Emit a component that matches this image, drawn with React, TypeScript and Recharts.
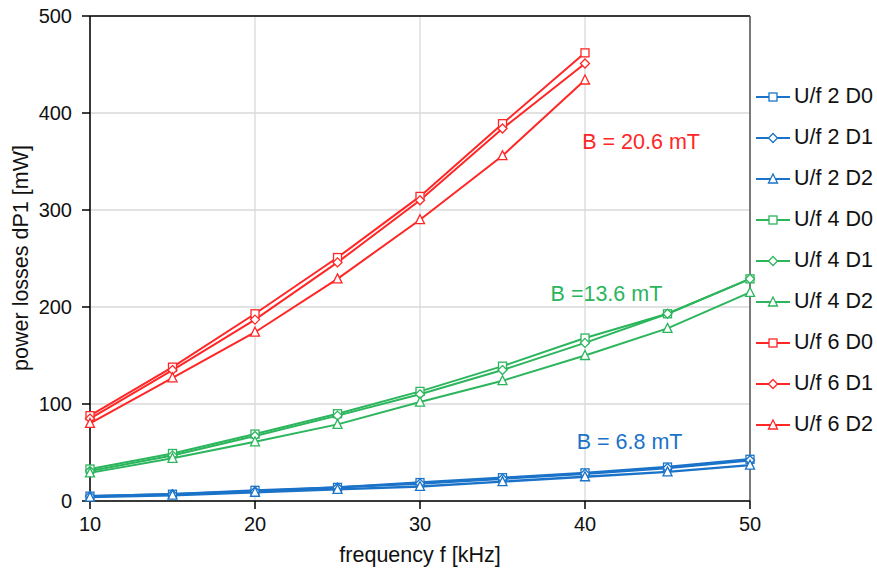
import React from "react";
import {
  CartesianGrid,
  Legend,
  Line,
  LineChart,
  ReferenceDot,
  ReferenceLine,
  XAxis,
  YAxis,
} from "recharts";

const freq = [10, 15, 20, 25, 30, 35, 40, 45, 50];

const uf2D0 = [5, 7, 11, 14, 19, 24, 29, 35, 43];
const uf2D1 = [5, 7, 10, 14, 18, 23, 28, 34, 42];
const uf2D2 = [4, 6, 9, 12, 15, 20, 25, 30, 37];

const uf4D0 = [33, 49, 69, 90, 113, 139, 168, 193, 229];
const uf4D1 = [31, 47, 67, 88, 110, 135, 163, 193, 229];
const uf4D2 = [29, 44, 61, 79, 102, 124, 150, 178, 215];

const uf6D0 = [88, 138, 193, 251, 314, 389, 462];
const uf6D1 = [85, 135, 187, 246, 310, 384, 451];
const uf6D2 = [80, 127, 174, 229, 290, 356, 434];

const xTicks = [10, 20, 30, 40, 50];
const yTicks = [0, 100, 200, 300, 400, 500];

const BLUE = "#1a73c8";
const GREEN = "#2bb55c";
const RED = "#ff2626";

const series = [
  { key: "u2d0", name: "U/f 2 D0", values: uf2D0, color: BLUE, shape: "square" },
  { key: "u2d1", name: "U/f 2 D1", values: uf2D1, color: BLUE, shape: "diamond" },
  { key: "u2d2", name: "U/f 2 D2", values: uf2D2, color: BLUE, shape: "triangle" },
  { key: "u4d0", name: "U/f 4 D0", values: uf4D0, color: GREEN, shape: "square" },
  { key: "u4d1", name: "U/f 4 D1", values: uf4D1, color: GREEN, shape: "diamond" },
  { key: "u4d2", name: "U/f 4 D2", values: uf4D2, color: GREEN, shape: "triangle" },
  { key: "u6d0", name: "U/f 6 D0", values: uf6D0, color: RED, shape: "square" },
  { key: "u6d1", name: "U/f 6 D1", values: uf6D1, color: RED, shape: "diamond" },
  { key: "u6d2", name: "U/f 6 D2", values: uf6D2, color: RED, shape: "triangle" },
];

const data = freq.map((f, i) => {
  const row: Record<string, number | null> = { f };
  series.forEach((s) => {
    row[s.key] = s.values[i] ?? null;
  });
  return row;
});

const font = "Liberation Sans, Arial, sans-serif";

function Marker({ shape, color, x, y }: { shape: string; color: string; x: number; y: number }) {
  if (shape === "square") {
    return <rect x={x - 4} y={y - 4} width={8} height={8} fill="#fff" stroke={color} strokeWidth={1.3} />;
  }
  if (shape === "diamond") {
    return (
      <polygon
        points={`${x},${y - 4.5} ${x + 4.5},${y} ${x},${y + 4.5} ${x - 4.5},${y}`}
        fill="#fff"
        stroke={color}
        strokeWidth={1.3}
      />
    );
  }
  return (
    <polygon
      points={`${x},${y - 5} ${x + 4.5},${y + 4} ${x - 4.5},${y + 4}`}
      fill="#fff"
      stroke={color}
      strokeWidth={1.3}
    />
  );
}

const makeDot = (shape: string, color: string) => (props: any) => {
  const { cx, cy, index } = props;
  if (cx == null || cy == null || props.value == null) return <g key={index} />;
  return (
    <g key={index}>
      <Marker shape={shape} color={color} x={cx} y={cy} />
    </g>
  );
};

function LegendBox() {
  return (
    <div style={{ fontFamily: font, fontSize: 21.5, color: "#111", lineHeight: 1 }}>
      {series.map((s) => (
        <div key={s.key} style={{ display: "flex", alignItems: "center", height: 41 }}>
          <svg width={36} height={14} style={{ marginRight: 3 }}>
            <line x1={1} y1={7} x2={35} y2={7} stroke={s.color} strokeWidth={2} />
            <Marker shape={s.shape} color={s.color} x={18} y={7} />
          </svg>
          <span>{s.name}</span>
        </div>
      ))}
    </div>
  );
}

export default function App() {
  return (
    <div style={{ position: "absolute", left: 0, top: 0, width: 877, height: 570, background: "#fff" }}>
      <LineChart
        width={877}
        height={570}
        data={data}
        margin={{ top: 16, right: 127, bottom: 0, left: 0 }}
        style={{ fontFamily: font }}
      >
        <CartesianGrid stroke="#d9d9d9" strokeWidth={1.3} />
        <XAxis
          dataKey="f"
          type="number"
          domain={[10, 50]}
          ticks={xTicks}
          height={69}
          stroke="#000"
          strokeWidth={1.5}
          tick={{ fill: "#111", fontSize: 20 }}
          tickSize={8}
          tickMargin={8}
          label={() => (
            <text x={420} y={562} textAnchor="middle" fill="#111" fontSize={21.5} fontFamily={font}>
              frequency f [kHz]
            </text>
          )}
        />
        <YAxis
          type="number"
          domain={[0, 500]}
          ticks={yTicks}
          width={90}
          stroke="#000"
          strokeWidth={1.5}
          tick={{ fill: "#111", fontSize: 20 }}
          tickSize={8}
          tickMargin={10}
          label={() => (
            <text
              x={28}
              y={258}
              transform="rotate(-90 28 258)"
              textAnchor="middle"
              fill="#111"
              fontSize={21.5}
              fontFamily={font}
            >
              power losses dP1 [mW]
            </text>
          )}
        />
        <ReferenceLine y={500} stroke="#000" strokeWidth={1.5} />
        <ReferenceLine x={50} stroke="#555" strokeWidth={1.5} />
        {series.map((s) => (
          <Line
            key={s.key}
            dataKey={s.key}
            name={s.name}
            stroke={s.color}
            strokeWidth={s.color === BLUE ? 2.4 : 2}
            dot={makeDot(s.shape, s.color)}
            activeDot={false}
            isAnimationActive={false}
            type="linear"
          />
        ))}
        <ReferenceDot
          x={43.4}
          y={371}
          r={0}
          fill="none"
          stroke="none"
          label={{ value: "B = 20.6 mT", fill: RED, fontSize: 21.5, position: "center" }}
        />
        <ReferenceDot
          x={41.3}
          y={214}
          r={0}
          fill="none"
          stroke="none"
          label={{ value: "B =13.6 mT", fill: GREEN, fontSize: 21.5, position: "center" }}
        />
        <ReferenceDot
          x={42.7}
          y={61}
          r={0}
          fill="none"
          stroke="none"
          label={{ value: "B = 6.8 mT", fill: BLUE, fontSize: 21.5, position: "center" }}
        />
        <Legend
          layout="horizontal"
          verticalAlign="middle"
          content={() => <LegendBox />}
          wrapperStyle={{ position: "absolute", left: 755, top: 76, width: 122 }}
        />
      </LineChart>
    </div>
  );
}
